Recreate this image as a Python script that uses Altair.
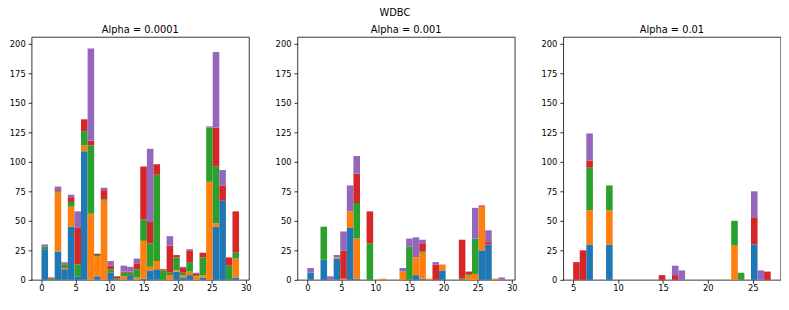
import altair as alt
import pandas as pd

SERIES = ["Series 1", "Series 2", "Series 3", "Series 4", "Series 5"]
COLORS = ["#1f77b4", "#ff7f0e", "#2ca02c", "#d62728", "#9467bd"]
N_BINS = 30

# Panel 1: Alpha = 0.0001 (feature index 0..29)
p1_values = list(range(30))
p1_blue   = [26, 0, 24, 9, 45, 3, 109, 0, 3, 0, 6, 0, 0, 4, 0, 1, 8, 9, 0, 0, 7, 2, 4, 0, 2, 0, 45, 67, 0, 2]
p1_orange = [0, 0, 50, 1, 17, 0, 5, 56, 17, 67, 0, 0, 3, 0, 2, 32, 3, 7, 0, 4, 1, 2, 3, 3, 2, 83, 3, 0, 0, 16]
p1_green  = [2, 1, 1, 3, 4, 10, 12, 58, 1, 1, 3, 1, 3, 2, 7, 18, 20, 73, 8, 2, 11, 2, 8, 1, 15, 46, 48, 0, 12, 5]
p1_red    = [0, 1, 1, 1, 4, 31, 10, 4, 1, 8, 3, 2, 1, 1, 5, 45, 18, 9, 1, 23, 2, 4, 10, 1, 4, 0, 33, 13, 7, 35]
p1_purple = [2, 0, 3, 1, 2, 14, 0, 78, 0, 2, 4, 0, 5, 4, 4, 0, 62, 0, 0, 8, 0, 1, 1, 1, 0, 1, 64, 13, 0, 0]

# Panel 2: Alpha = 0.001
p2_values = list(range(30))
p2_blue   = [6, 0, 17, 0, 18, 0, 44, 1, 0, 0, 0, 0, 0, 0, 0, 0, 4, 1, 0, 0, 8, 0, 0, 0, 0, 0, 25, 30, 0, 0]
p2_orange = [0, 0, 0, 0, 1, 1, 14, 34, 0, 0, 0, 1, 0, 0, 7, 0, 15, 22, 1, 0, 5, 0, 0, 0, 4, 5, 37, 0, 1, 0]
p2_green  = [0, 0, 28, 0, 0, 0, 0, 30, 0, 31, 0, 0, 0, 0, 0, 28, 0, 1, 0, 0, 0, 0, 0, 1, 1, 30, 0, 0, 0, 0]
p2_red    = [0, 0, 0, 0, 0, 24, 0, 25, 0, 27, 0, 0, 0, 0, 0, 0, 0, 7, 0, 13, 0, 0, 0, 33, 2, 0, 1, 2, 0, 0]
p2_purple = [4, 0, 0, 3, 2, 16, 22, 15, 0, 0, 0, 0, 0, 0, 3, 7, 17, 3, 0, 2, 0, 0, 0, 0, 0, 26, 0, 10, 0, 2]

# Panel 3: Alpha = 0.01
p3_values = [5, 6, 7, 9, 15, 16, 17, 23, 24, 25, 26, 27]
p3_blue   = [0, 0, 30, 30, 0, 0, 0, 0, 0, 30, 0, 0]
p3_orange = [0, 0, 29, 29, 0, 0, 0, 29, 0, 0, 0, 0]
p3_green  = [0, 0, 36, 21, 0, 0, 0, 21, 6, 0, 0, 0]
p3_red    = [15, 25, 6, 0, 4, 4, 0, 0, 0, 23, 0, 7]
p3_purple = [0, 0, 23, 0, 0, 8, 8, 0, 0, 22, 8, 0]

PANELS = [
    ("Alpha = 0.0001", p1_values, [p1_blue, p1_orange, p1_green, p1_red, p1_purple], [0, 5, 10, 15, 20, 25, 30]),
    ("Alpha = 0.001", p2_values, [p2_blue, p2_orange, p2_green, p2_red, p2_purple], [0, 5, 10, 15, 20, 25, 30]),
    ("Alpha = 0.01", p3_values, [p3_blue, p3_orange, p3_green, p3_red, p3_purple], [5, 10, 15, 20, 25]),
]
Y_TICKS = [0, 25, 50, 75, 100, 125, 150, 175, 200]


def stacked_hist(values, series_counts):
    lo, hi = min(values), max(values)
    w = (hi - lo) / N_BINS
    bins = {}
    for j, v in enumerate(values):
        k = min(int((v - lo) / w), N_BINS - 1)
        b = bins.setdefault(k, [0] * len(series_counts))
        for i, counts in enumerate(series_counts):
            b[i] += counts[j]
    rows = []
    for k, b in bins.items():
        base = 0
        for i, c in enumerate(b):
            if c > 0:
                rows.append({"x0": lo + k * w, "x1": lo + (k + 1) * w,
                             "y0": base, "y1": base + c, "series": SERIES[i], "order": i})
            base += c
    return pd.DataFrame(rows), lo, hi


frames = [stacked_hist(v, s) for _, v, s, _ in PANELS]
ymax = max(df["y1"].max() for df, _, _ in frames) * 1.05

charts = []
for (title, values, series, xticks), (df, lo, hi) in zip(PANELS, frames):
    m = 0.05 * (hi - lo)
    c = alt.Chart(df).mark_rect().encode(
        x=alt.X("x0:Q", scale=alt.Scale(domain=[lo - m, hi + m], nice=False, zero=False),
                axis=alt.Axis(values=xticks, title=None, format="d", labelFlush=False,
                              labelBaseline="alphabetic", labelPadding=7.5)),
        x2="x1:Q",
        y=alt.Y("y0:Q", scale=alt.Scale(domain=[0, ymax], nice=False),
                axis=alt.Axis(values=Y_TICKS, title=None, format="d", labelFlush=False,
                              labelPadding=3, minExtent=21.5, maxExtent=21.5)),
        y2="y1:Q",
        color=alt.Color("series:N", scale=alt.Scale(domain=SERIES, range=COLORS), legend=None),
    ).properties(
        width=221, height=247,
        title=alt.TitleParams(title, fontSize=10, font="DejaVu Sans", fontWeight="normal",
                              color="#000000", baseline="alphabetic", offset=-6.4, anchor="middle"),
    )
    charts.append(c)

chart = alt.hconcat(*charts, spacing=22.3).properties(
    title=alt.TitleParams("WDBC", fontSize=10, font="DejaVu Sans", fontWeight="normal",
                          color="#000000", anchor="middle", baseline="alphabetic", offset=-0.3),
    padding={"left": 0, "top": -3, "right": 0, "bottom": 0},
).configure_view(
    stroke="#000000", strokeWidth=0.8
).configure_axis(
    grid=False, domain=False, tickColor="#000000", tickSize=3.5, tickWidth=0.8,
    labelColor="#000000", labelFont="DejaVu Sans", labelFontSize=8.5,
)

chart.save("out.html", embed_options={"renderer": "svg", "actions": False})
